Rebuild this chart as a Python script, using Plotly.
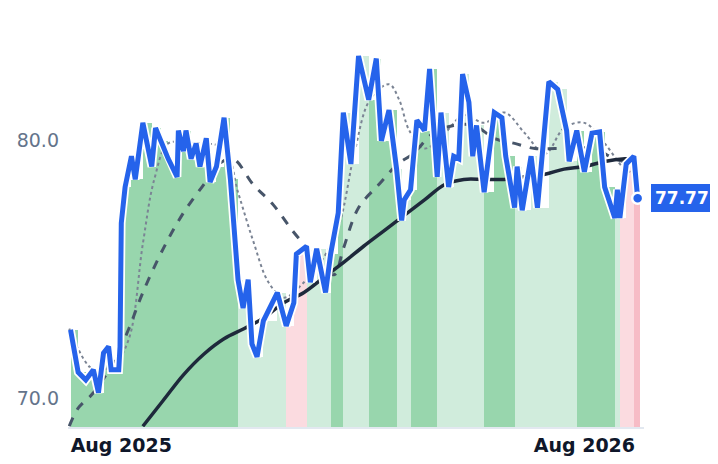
import pandas as pd
import plotly.graph_objects as go

START = pd.Timestamp("2025-06-21")

price_day = [1,7,13,19,23,27,31,33,39,40,41,44,49,52,58,65,68,72,78,85,86,90,92,96,100,103,108,111,116,122,127,133,137,141,144,148,153,164,171,177,179,187,190,195,202,206,212,216,222,228,236,242,246,252,258,262,264,269,274,280,284,290,293,299,303,307,310,315,318,321,327,335,341,344,351,353,357,364,369,378,385,392,394,400,406,412,418,422,430,432,434,439,445,448]
price_val = [72.65,71.0,70.7,71.1,70.2,71.75,72.0,71.1,71.1,72.0,76.8,78.2,79.4,78.5,80.7,79.0,80.5,80.0,79.3,78.6,80.4,79.6,80.4,79.3,79.9,79.0,80.1,78.4,79.0,80.9,78.5,74.6,73.5,74.6,72.1,71.6,73.0,74.1,72.8,73.7,75.6,75.9,74.5,75.8,74.1,75.6,77.2,81.1,79.1,83.3,81.6,83.2,80.0,81.2,78.9,76.9,77.7,78.1,80.8,80.4,82.8,78.6,81.1,78.2,79.4,79.3,82.6,81.5,79.4,80.6,78.0,81.1,80.9,79.4,77.4,79.0,77.3,79.4,77.4,82.3,82.0,80.4,79.2,80.4,78.8,80.3,80.35,78.2,77.0,78.1,77.0,79.1,79.4,77.77]

short_day = [0,19,35,47,58,67,78,94,122,133,145,157,169,185,201,213,225,237,252,260,268,280,296,311,327,343,359,375,390,406,422,438,448]
short_val = [72.7,71.1,71.3,72.3,76.0,78.5,79.9,79.9,79.7,78.0,76.1,74.5,73.9,74.5,75.5,76.8,79.6,81.6,82.2,81.6,80.4,79.7,80.3,81.0,80.7,81.1,80.3,79.5,80.5,80.7,79.9,78.9,78.7]

mid_day = [0,7,19,35,47,58,74,90,106,118,129,145,161,176,188,201,209,216,228,244,259,271,287,303,319,335,351,367,383,398,414,430,448]
mid_val = [68.9,69.6,70.2,71.4,72.7,74.1,75.8,77.2,78.3,79.1,79.3,78.3,77.5,76.5,75.8,75.0,74.8,75.8,77.4,78.3,79.1,79.5,80.3,80.6,80.6,80.1,79.9,79.7,79.7,79.7,79.7,79.3,79.1]

long_day = [58,74,90,106,122,138,153,169,185,201,217,232,248,264,280,296,311,327,343,359,375,390,406,422,438,448]
long_val = [68.9,69.9,70.9,71.7,72.3,72.7,73.1,73.7,74.1,74.7,75.3,75.9,76.5,77.1,77.7,78.3,78.5,78.5,78.5,78.6,78.7,78.9,79.0,79.2,79.3,79.3]

seg_end_day = [128,171,186,206,213,231,254,268,288,325,328,333,349,395,428,434,444,460]
seg_kind = ["strong","light","pink","light","strong","light","strong","light","strong","light","strong","light","strong","light","strong","light","pink","pinkdeep"]

kind_color = {"strong": "#98d6ad", "light": "#d0ecdc", "pink": "#fbdbe0", "pinkdeep": "#f7bcc6"}

def to_dates(days):
    return [START + pd.Timedelta(days=d) for d in days]

def kind_of(d):
    for e, k in zip(seg_end_day, seg_kind):
        if d < e:
            return k
    return seg_kind[-1]

px = to_dates(price_day)
widths = []
for i, d in enumerate(price_day):
    nxt = price_day[i + 1] if i + 1 < len(price_day) else d + 2
    widths.append((nxt - d) * 86400000)
colors = [kind_color[kind_of(d)] for d in price_day]

fig = go.Figure()
fig.add_bar(x=px, y=price_val, width=widths, offset=0, marker=dict(color=colors, line=dict(width=0)), hoverinfo="skip")
fig.add_scatter(x=to_dates(short_day), y=short_val, mode="lines", line=dict(color="#7b8494", width=2, dash="dot", shape="spline"))
fig.add_scatter(x=to_dates(mid_day), y=mid_val, mode="lines", line=dict(color="#475569", width=3, dash="dash", shape="spline"))
fig.add_scatter(x=to_dates(long_day), y=long_val, mode="lines", line=dict(color="#1e293b", width=3.5, shape="spline"))
fig.add_scatter(x=px, y=price_val, mode="lines", line=dict(color="white", width=8.5))
fig.add_scatter(x=px, y=price_val, mode="lines", line=dict(color="#2563eb", width=5))
fig.add_scatter(x=[px[-1]], y=[price_val[-1]], mode="markers", marker=dict(color="#2563eb", size=11, line=dict(color="white", width=2.5)))

fig.add_annotation(xref="paper", x=1.012, y=price_val[-1], yref="y", text=f"<b>{price_val[-1]:.2f}</b>", showarrow=False,
                   xanchor="left", bgcolor="#2563eb", bordercolor="#2563eb", borderpad=3,
                   font=dict(color="white", size=17, family="DejaVu Sans"))

fig.update_layout(
    width=718, height=464, showlegend=False, plot_bgcolor="white", paper_bgcolor="white",
    margin=dict(l=60, r=82, t=12, b=45), bargap=0,
    font=dict(family="DejaVu Sans"),
    xaxis=dict(type="date", range=[START - pd.Timedelta(days=1), START + pd.Timedelta(days=453)],
               tickvals=to_dates([41, 406]), ticktext=["<b>Aug 2025</b>", "<b>Aug 2026</b>"],
               tickfont=dict(size=19, color="#0f172a"), showgrid=False, showline=True, linecolor="#e2e8f0", linewidth=2,
               ticks="", zeroline=False),
    yaxis=dict(range=[68.87, 84.7], tickvals=[70, 80], ticktext=["70.0", "80.0"], ticklabelstandoff=8, automargin=False,
               tickfont=dict(size=19, color="#64748b"), showgrid=False, zeroline=False, ticks=""),
)
fig.write_html("out.html")
